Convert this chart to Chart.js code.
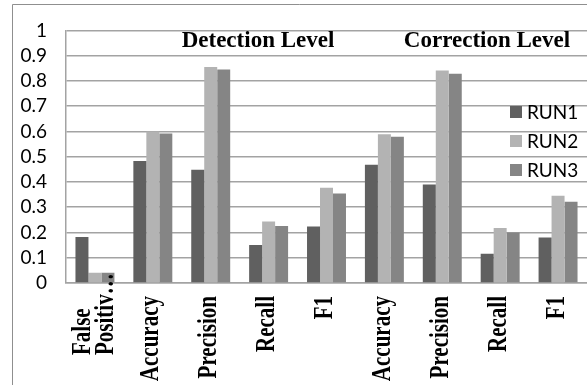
<!DOCTYPE html>
<html>
<head>
<meta charset="utf-8">
<script src="https://cdn.jsdelivr.net/npm/chart.js@4"></script>
<style>
  html, body { margin: 0; padding: 0; background: #fff; }
  #wrap { width: 587px; height: 385px; }
</style>
</head>
<body>
<div id="wrap"><canvas id="myChart" width="587" height="385"></canvas></div>
<script>
// values
var categories = [["False", "Positiv\u2026"], "Accuracy", "Precision", "Recall", "F1",
                  "Accuracy", "Precision", "Recall", "F1"];
var run1 = [0.182, 0.483, 0.448, 0.150, 0.224, 0.468, 0.390, 0.116, 0.180];
var run2 = [0.041, 0.600, 0.855, 0.243, 0.377, 0.589, 0.841, 0.218, 0.345];
var run3 = [0.041, 0.592, 0.845, 0.226, 0.354, 0.579, 0.828, 0.200, 0.322];
var seriesNames = ["RUN1", "RUN2", "RUN3"];
var groupTitles = ["Detection Level", "Correction Level"];

var colors = ["#606060", "#b3b3b3", "#858585"];
var gridColor = "#a3a3a3";

// frame, group titles, rotated category labels and legend
var extras = {
	id: "extras",
	beforeDraw: function(chart) {
		var ctx = chart.ctx;
		ctx.save();
		ctx.strokeStyle = "#8f8f8f";
		ctx.lineWidth = 1;
		ctx.beginPath();
		ctx.moveTo(12.5, 385);
		ctx.lineTo(12.5, 4.5);
		ctx.lineTo(587, 4.5);
		ctx.stroke();
		ctx.restore();
	},
	afterDraw: function(chart) {
		var ctx = chart.ctx;
		var x = chart.scales.x;
		var area = chart.chartArea;
		ctx.save();
		ctx.fillStyle = "#000";

		// titles
		ctx.font = "bold 23px 'Liberation Serif'";
		ctx.textAlign = "center";
		ctx.textBaseline = "alphabetic";
		ctx.fillText(groupTitles[0], 258, 47);
		ctx.fillText(groupTitles[1], 487, 47);

		// category labels, rotated (a bit wider like the original)
		ctx.font = "bold 21px 'Liberation Serif'";
		ctx.textBaseline = "middle";
		for (var i = 0; i < categories.length; i++) {
			var cx = x.getPixelForTick(i);
			var lab = categories[i];
			ctx.save();
			if (Array.isArray(lab)) {
				ctx.translate(cx, area.bottom + 72);
				ctx.rotate(-Math.PI / 2);
				ctx.scale(1, 1.25);
				ctx.textAlign = "left";
				for (var j = 0; j < lab.length; j++) {
					ctx.fillText(lab[j], 0, (j - (lab.length - 1) / 2) * 18);
				}
			} else {
				ctx.translate(cx, area.bottom + 13);
				ctx.rotate(-Math.PI / 2);
				ctx.scale(1, 1.25);
				ctx.textAlign = "right";
				ctx.fillText(lab, 0, -1);
			}
			ctx.restore();
		}

		// legend
		ctx.font = "19px Lato";
		ctx.textAlign = "left";
		ctx.textBaseline = "middle";
		var ys = [112, 141, 170];
		chart.data.datasets.forEach(function(ds, k) {
			ctx.fillStyle = ds.backgroundColor;
			ctx.fillRect(510, ys[k] - 6, 12, 12);
			ctx.fillStyle = "#000";
			ctx.fillText(ds.label, 527, ys[k] + 1);
		});
		ctx.restore();
	}
};

var canvasElement = document.getElementById("myChart");
var config = {
	type: "bar",
	data: {
		labels: categories,
		datasets: [
			{ label: seriesNames[0], data: run1, backgroundColor: colors[0] },
			{ label: seriesNames[1], data: run2, backgroundColor: colors[1] },
			{ label: seriesNames[2], data: run3, backgroundColor: colors[2] }
		]
	},
	options: {
		responsive: false,
		animation: false,
		devicePixelRatio: 1,
		layout: { padding: { top: 24, left: 0, right: 0, bottom: 0 } },
		datasets: { bar: { categoryPercentage: 0.673, barPercentage: 1.0, borderWidth: 0 } },
		plugins: { legend: { display: false }, tooltip: { enabled: false } },
		scales: {
			x: {
				grid: { display: false },
				border: { display: true, color: gridColor, width: 1.5 },
				ticks: { display: false },
				afterFit: function(s) { s.height = 102; }
			},
			y: {
				min: 0,
				max: 1,
				ticks: {
					stepSize: 0.1,
					autoSkip: false,
					color: "#000",
					padding: 19,
					font: { family: "Lato", size: 19 },
					callback: function(v) { return String(+v.toFixed(1)); }
				},
				grid: { color: gridColor, lineWidth: 1.5, drawTicks: false },
				border: { display: true, color: gridColor, width: 1.5 },
				afterFit: function(s) { s.width = 66; }
			}
		}
	},
	plugins: [extras]
};
var myChart = new Chart(canvasElement, config);
</script>
</body>
</html>
